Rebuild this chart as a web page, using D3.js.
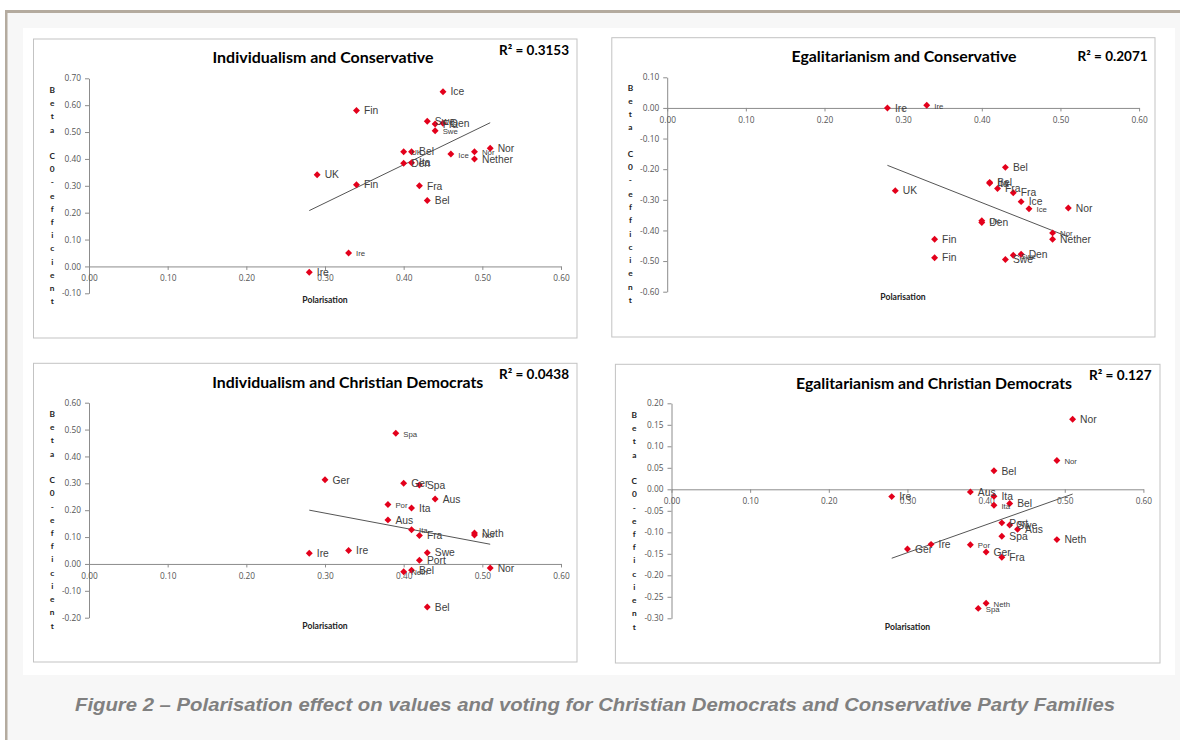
<!DOCTYPE html>
<html><head><meta charset="utf-8">
<script src="https://cdn.jsdelivr.net/npm/d3@7"></script>
<style>body{margin:0;background:#fff}svg{display:block}</style>
</head><body><svg id="c" width="1180" height="740"></svg>
<script>
// ---------- DATA ----------
const titles = ["Individualism and Conservative","Egalitarianism and Conservative","Individualism and Christian Democrats","Egalitarianism and Christian Democrats"];
const r2Labels = ["R² = 0.3153","R² = 0.2071","R² = 0.0438","R² = 0.127"];
const xTicks = [0,0.1,0.2,0.3,0.4,0.5,0.6];
const p1YTicks = [-0.1,0,0.1,0.2,0.3,0.4,0.5,0.6,0.7];
const p2YTicks = [-0.6,-0.5,-0.4,-0.3,-0.2,-0.1,0,0.1];
const p3YTicks = [-0.2,-0.1,0,0.1,0.2,0.3,0.4,0.5,0.6];
const p4YTicks = [-0.3,-0.25,-0.2,-0.15,-0.1,-0.05,0,0.05,0.1,0.15,0.2];
const yAxisLetters = ["B","e","t","a"," ","C","0","-","e","f","f","i","c","i","e","n","t"];
const xAxisTitle = "Polarisation";
const caption = "Figure 2 – Polarisation effect on values and voting for Christian Democrats and Conservative Party Families";

// Panel 1: Individualism and Conservative
const p1Country = ["Ice","Fin","Swe","Fra","Den","Swe","UK","Bel","Den","Ita","UK","Fin","Fra","Bel","Ice","Nor","Nether","Nor","Ire","Ire"];
const p1Polar   = [0.45,0.34,0.43,0.44,0.45,0.44,0.40,0.41,0.40,0.41,0.29,0.34,0.42,0.43,0.46,0.49,0.49,0.51,0.33,0.28];
const p1Beta    = [0.65,0.58,0.54,0.53,0.533,0.505,0.427,0.427,0.384,0.386,0.341,0.304,0.30,0.245,0.418,0.427,0.40,0.44,0.05,-0.022];
const p1Wave    = [2,2,2,2,2,1,1,2,2,2,2,2,2,2,1,1,2,2,1,2];

// Panel 2: Egalitarianism and Conservative
const p2Country = ["Ire","Ire","Bel","Bel","Ita","Fra","Fra","Ice","Ice","Nor","UK","Den","UK","Fin","Fin","Nor","Nether","Swe","Den","Swe"];
const p2Polar   = [0.28,0.33,0.43,0.41,0.41,0.42,0.44,0.45,0.46,0.51,0.29,0.40,0.40,0.34,0.34,0.49,0.49,0.44,0.45,0.43];
const p2Beta    = [0.00,0.009,-0.194,-0.243,-0.246,-0.263,-0.277,-0.306,-0.329,-0.327,-0.27,-0.374,-0.368,-0.429,-0.489,-0.408,-0.429,-0.481,-0.478,-0.495];
const p2Wave    = [2,1,2,2,2,2,2,2,1,2,2,2,1,2,2,1,2,1,2,2];

// Panel 3: Individualism and Christian Democrats
const p3Country = ["Spa","Ger","Ger","Spa","Aus","Por","Ita","Aus","Ita","Fra","Neth","Nor","Ire","Ire","Swe","Port","Neth","Bel","Nor","Bel"];
const p3Polar   = [0.39,0.30,0.40,0.42,0.44,0.38,0.41,0.38,0.41,0.42,0.49,0.49,0.28,0.33,0.43,0.42,0.40,0.41,0.51,0.43];
const p3Beta    = [0.486,0.313,0.300,0.294,0.242,0.221,0.208,0.164,0.127,0.106,0.115,0.108,0.040,0.050,0.042,0.014,-0.029,-0.023,-0.015,-0.160];
const p3Wave    = [1,2,2,2,2,1,2,2,1,2,2,1,2,2,2,2,1,2,2,2];

// Panel 4: Egalitarianism and Christian Democrats
const p4Country = ["Nor","Nor","Bel","Aus","Ire","Ita","Ita","Bel","Port","Swe","Aus","Spa","Neth","Ger","Ire","Por","Ger","Fra","Neth","Spa"];
const p4Polar   = [0.51,0.49,0.41,0.38,0.28,0.41,0.41,0.43,0.42,0.43,0.44,0.42,0.49,0.30,0.33,0.38,0.40,0.42,0.40,0.39];
const p4Beta    = [0.163,0.067,0.043,-0.006,-0.017,-0.016,-0.037,-0.033,-0.078,-0.083,-0.093,-0.109,-0.117,-0.139,-0.128,-0.129,-0.146,-0.158,-0.265,-0.277];
const p4Wave    = [2,1,2,2,2,2,1,2,2,2,2,2,2,2,2,1,2,2,1,1];

// ---------- LAYOUT ----------
const layout = [
  {box:[33.5,39,577,338], xr:[89,561], yd:[-0.1,0.7], yr:[293.3,78.3], tc:323, tb:62.5, tw:221, rx:499, rb:55, rw:70, lx:52.2, ly:90, ls:13.2, px:325, pb:303},
  {box:[611.8,37.7,1155,337], xr:[667.2,1139.1], yd:[-0.6,0.1], yr:[291.7,77.3], tc:904, tb:61.8, tw:225, rx:1077.6, rb:61, rw:70, lx:630.4, ly:87.7, ls:13.27, px:903, pb:300},
  {box:[33.5,363.3,577,662], xr:[89,561], yd:[-0.2,0.6], yr:[617.7,402.7], tc:347.8, tb:388, tw:271, rx:499, rb:379, rw:70, lx:52.2, ly:414, ls:13.23, px:325, pb:629},
  {box:[615.4,364.3,1160,663], xr:[671.5,1143.4], yd:[-0.3,0.2], yr:[618.3,403.3], tc:934, tb:388.5, tw:276, rx:1089, rb:380, rw:62.6, lx:634.3, ly:415, ls:13.23, px:907.5, pb:630}
];
const panelData = [
  {c:p1Country, x:p1Polar, y:p1Beta, w:p1Wave, t:p1YTicks},
  {c:p2Country, x:p2Polar, y:p2Beta, w:p2Wave, t:p2YTicks},
  {c:p3Country, x:p3Polar, y:p3Beta, w:p3Wave, t:p3YTicks},
  {c:p4Country, x:p4Polar, y:p4Beta, w:p4Wave, t:p4YTicks}
];

const svg = d3.select("#c");
const fmt = v => Math.abs(v) < 1e-9 ? "0.00" : v.toFixed(2);

// page frame
svg.append("rect").attr("x",0).attr("y",0).attr("width",1180).attr("height",740).attr("fill","#fff");
svg.append("rect").attr("x",5).attr("y",10).attr("width",1175).attr("height",730).attr("fill","#f7f7f7");
svg.append("rect").attr("x",5).attr("y",10).attr("width",1175).attr("height",3).attr("fill","#b4ab9f");
svg.append("rect").attr("x",5).attr("y",10).attr("width",2.5).attr("height",730).attr("fill","#b4ab9f");
svg.append("rect").attr("x",23).attr("y",28).attr("width",1152).attr("height",647).attr("fill","#fff");

function drawPanel(L, D, i) {
  const g = svg.append("g");
  g.append("rect").attr("x",L.box[0]).attr("y",L.box[1])
    .attr("width",L.box[2]-L.box[0]).attr("height",L.box[3]-L.box[1])
    .attr("fill","#fff").attr("stroke","#c3c3c3").attr("stroke-width",1);
  const x = d3.scaleLinear().domain([0,0.6]).range(L.xr);
  const y = d3.scaleLinear().domain(L.yd).range(L.yr);

  const ya = g.append("g").attr("transform",`translate(${x(0)},0)`)
    .call(d3.axisLeft(y).tickValues(D.t).tickFormat(fmt).tickSize(4).tickSizeOuter(0).tickPadding(4));
  const xa = g.append("g").attr("transform",`translate(0,${y(0)})`)
    .call(d3.axisBottom(x).tickValues(xTicks).tickFormat(fmt).tickSize(3.5).tickSizeOuter(0).tickPadding(5.5));
  [ya,xa].forEach(a => {
    a.attr("font-family","'Open Sans', sans-serif").attr("font-size",8.3);
    a.selectAll("path.domain").attr("stroke","#8c8c8c");
    a.selectAll(".tick line").attr("stroke","#8c8c8c");
    a.selectAll(".tick text").attr("fill","#555");
  });

  // trend line (least squares)
  const n = D.x.length;
  const mx = d3.mean(D.x), my = d3.mean(D.y);
  let sxy = 0, sxx = 0;
  for (let k = 0; k < n; k++) { sxy += (D.x[k]-mx)*(D.y[k]-my); sxx += (D.x[k]-mx)**2; }
  const b = sxy/sxx, a0 = my - b*mx;
  const [x0,x1] = d3.extent(D.x);
  g.append("line").attr("x1",x(x0)).attr("y1",y(a0+b*x0)).attr("x2",x(x1)).attr("y2",y(a0+b*x1))
    .attr("stroke","#555").attr("stroke-width",1);

  const idx = d3.range(n);
  g.selectAll("path.pt").data(idx).join("path").attr("class","pt")
    .attr("d", d3.symbol().type(d3.symbolSquare).size(24))
    .attr("transform", k => `translate(${x(D.x[k])},${y(D.y[k])}) rotate(45)`)
    .attr("fill","#e3001b");
  g.selectAll("text.lbl").data(idx).join("text").attr("class","lbl")
    .attr("x", k => x(D.x[k]) + 7.5)
    .attr("y", k => y(D.y[k]))
    .attr("dy", k => D.w[k] === 1 ? "0.45em" : "0.36em")
    .attr("font-family","'Liberation Sans', Arial, sans-serif")
    .attr("font-size", k => D.w[k] === 1 ? 7.8 : 10.3)
    .attr("fill","#404040")
    .text(k => D.c[k]);

  // titles
  g.append("text").attr("x",L.tc).attr("y",L.tb).attr("text-anchor","middle")
    .attr("font-family","Lato, sans-serif").attr("font-weight","bold").attr("font-size",15)
    .attr("textLength",L.tw).attr("lengthAdjust","spacingAndGlyphs").attr("fill","#000")
    .text(titles[i]);
  g.append("text").attr("x",L.rx).attr("y",L.rb)
    .attr("font-family","Lato, sans-serif").attr("font-weight","bold").attr("font-size",14)
    .attr("textLength",L.rw).attr("lengthAdjust","spacingAndGlyphs").attr("fill","#000")
    .text(r2Labels[i]);
  // y axis title (stacked letters)
  g.selectAll("text.yl").data(yAxisLetters).join("text").attr("class","yl")
    .attr("x",L.lx).attr("y",(d,j) => L.ly + j*L.ls).attr("dy","0.35em")
    .attr("text-anchor","middle").attr("font-family","Lato, sans-serif")
    .attr("font-weight","bold").attr("font-size",8.3).attr("fill","#222").text(d => d);
  g.append("text").attr("x",L.px).attr("y",L.pb).attr("text-anchor","middle")
    .attr("font-family","Lato, sans-serif").attr("font-weight","bold").attr("font-size",8.6)
    .attr("fill","#222").text(xAxisTitle);
}
layout.forEach((L,i) => drawPanel(L, panelData[i], i));

svg.append("text").attr("x",75).attr("y",710.5)
  .attr("font-family","'Liberation Sans', Arial, sans-serif").attr("font-weight","bold")
  .attr("font-style","italic").attr("font-size",18).attr("fill","#808080")
  .attr("textLength",1040).attr("lengthAdjust","spacingAndGlyphs").text(caption);
</script></body></html>
